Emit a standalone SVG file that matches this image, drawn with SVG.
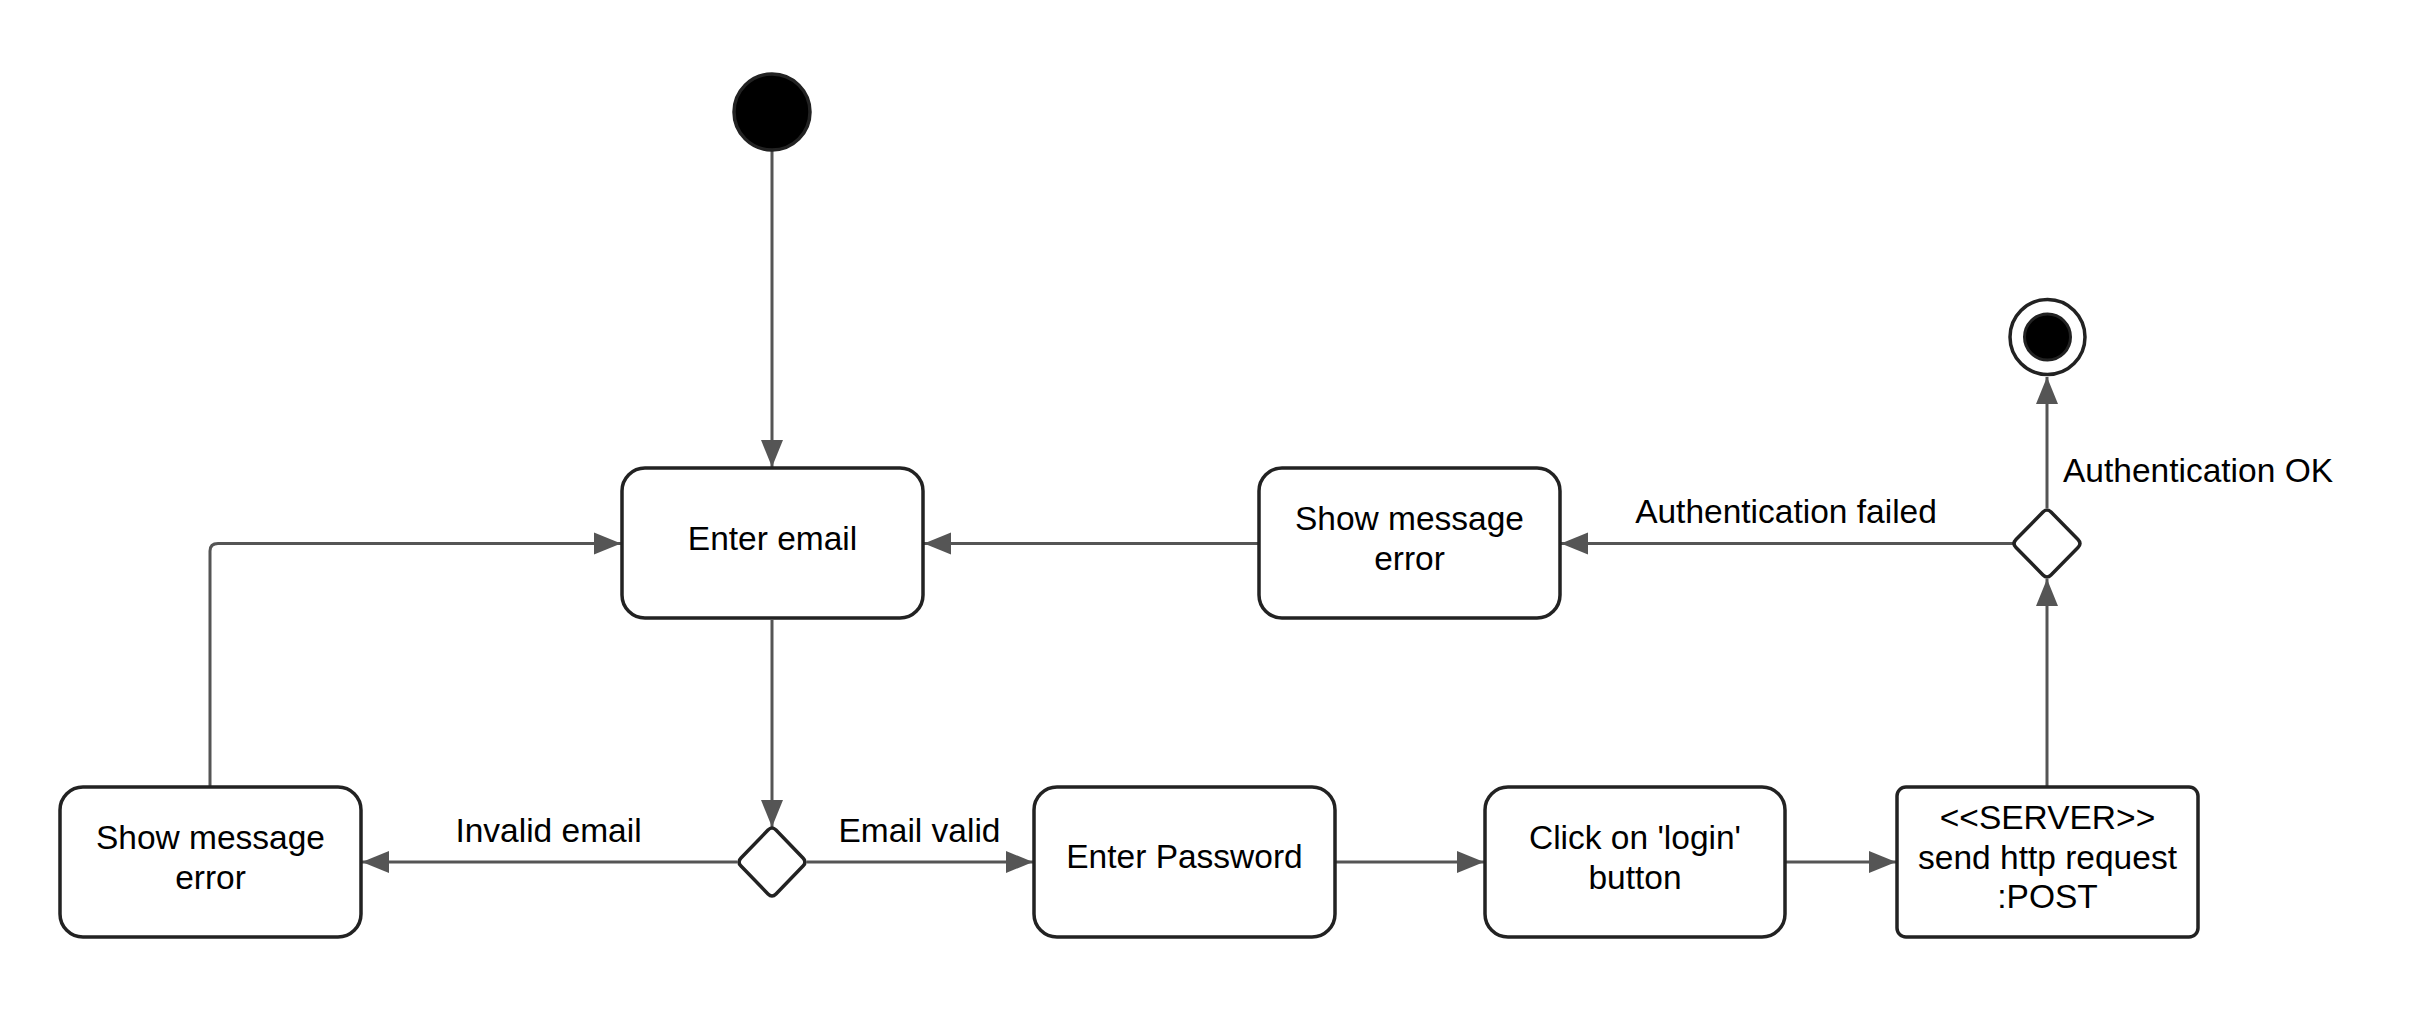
<svg xmlns="http://www.w3.org/2000/svg" width="2409" height="1013" viewBox="0 0 2409 1013">
<style>
.node{fill:#fff;stroke:#222;stroke-width:3.5}
.t{font-family:"Liberation Sans",Arial,sans-serif;font-size:33.5px;fill:#000;text-anchor:middle}
.lbl{font-family:"Liberation Sans",Arial,sans-serif;font-size:33.5px;fill:#000}
.c{fill:none;stroke:#555;stroke-width:3}
</style>
<defs>
<marker id="arr" markerUnits="userSpaceOnUse" markerWidth="28" markerHeight="24" refX="27" refY="12" orient="auto">
<path d="M0,1 L27,12 L0,23 Z" fill="#555"/>
</marker>
</defs>
<rect width="2409" height="1013" fill="#fff"/>
<g id="connectors">
<line class="c" x1="772" y1="151" x2="772" y2="467" marker-end="url(#arr)"/>
<line class="c" x1="772" y1="620" x2="772" y2="827" marker-end="url(#arr)"/>
<line class="c" x1="737" y1="862" x2="362" y2="862" marker-end="url(#arr)"/>
<line class="c" x1="807" y1="862" x2="1033" y2="862" marker-end="url(#arr)"/>
<line class="c" x1="1336" y1="862" x2="1484" y2="862" marker-end="url(#arr)"/>
<line class="c" x1="1786" y1="862" x2="1896" y2="862" marker-end="url(#arr)"/>
<line class="c" x1="2047" y1="786" x2="2047" y2="579" marker-end="url(#arr)"/>
<line class="c" x1="2013" y1="543.5" x2="1561" y2="543.5" marker-end="url(#arr)"/>
<line class="c" x1="2047" y1="508" x2="2047" y2="377" marker-end="url(#arr)"/>
<line class="c" x1="1258" y1="543.5" x2="924" y2="543.5" marker-end="url(#arr)"/>
<path class="c" d="M210,786 L210,551 Q210,543.5 218,543.5 L621,543.5" marker-end="url(#arr)"/>
<text class="t" x="548.5" y="842">Invalid email</text>
<text class="t" x="919.5" y="842">Email valid</text>
<text class="t" x="1786" y="523">Authentication failed</text>
<text class="lbl" x="2063" y="482">Authentication OK</text>
</g>
<g id="start">
<circle cx="772" cy="112" r="38" fill="#000" stroke="#222" stroke-width="3.5"/>
</g>
<g id="enter-email">
<rect class="node" x="622" y="468" width="301" height="150" rx="23" ry="23"/>
<text class="t" x="772.5" y="550">Enter email</text>
</g>
<g id="show-error-left">
<rect class="node" x="60" y="787" width="301" height="150" rx="23" ry="23"/>
<text class="t" x="210.5" y="849">Show message</text>
<text class="t" x="210.5" y="888.5">error</text>
</g>
<g id="decision-email">
<path class="node" d="M768,830 Q772,826 776,830 L803,858 Q807,862 803,866 L776,894 Q772,898 768,894 L741,866 Q737,862 741,858 Z"/>
</g>
<g id="enter-password">
<rect class="node" x="1034" y="787" width="301" height="150" rx="23" ry="23"/>
<text class="t" x="1184.5" y="868">Enter Password</text>
</g>
<g id="click-login">
<rect class="node" x="1485" y="787" width="300" height="150" rx="23" ry="23"/>
<text class="t" x="1635" y="849">Click on 'login'</text>
<text class="t" x="1635" y="888.5">button</text>
</g>
<g id="server">
<rect class="node" x="1897" y="787" width="301" height="150" rx="9" ry="9"/>
<text class="t" x="2047.5" y="829">&lt;&lt;SERVER&gt;&gt;</text>
<text class="t" x="2047.5" y="868.5">send http request</text>
<text class="t" x="2047.5" y="908">:POST</text>
</g>
<g id="decision-auth">
<path class="node" d="M2043,512 Q2047,508 2051,512 L2078,539.5 Q2082,543.5 2078,547.5 L2051,575 Q2047,579 2043,575 L2016,547.5 Q2012,543.5 2016,539.5 Z"/>
</g>
<g id="show-error-top">
<rect class="node" x="1259" y="468" width="301" height="150" rx="23" ry="23"/>
<text class="t" x="1409.5" y="530">Show message</text>
<text class="t" x="1409.5" y="570">error</text>
</g>
<g id="end">
<circle cx="2047.5" cy="337" r="37.5" fill="#fff" stroke="#222" stroke-width="3.5"/>
<circle cx="2047.5" cy="337" r="23" fill="#000" stroke="#222" stroke-width="3"/>
</g>
</svg>
